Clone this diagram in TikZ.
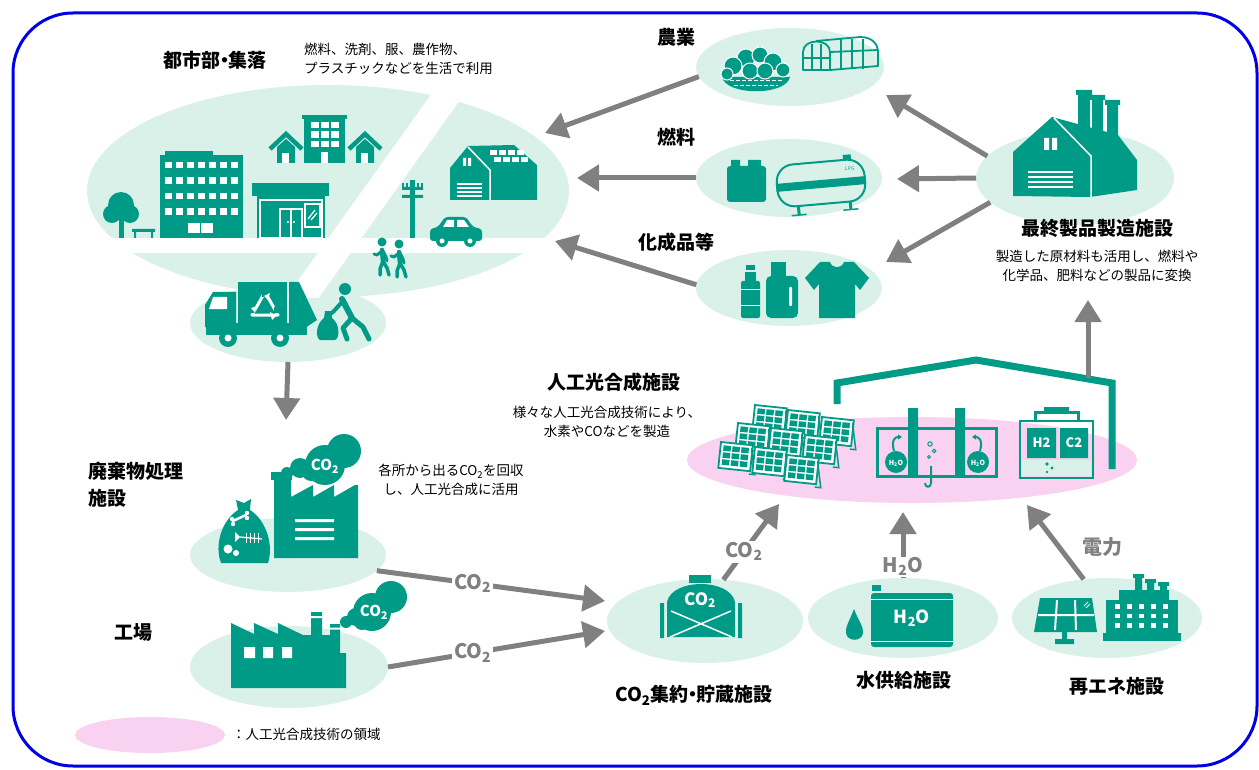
\documentclass[tikz,border=0pt]{standalone}
\usepackage{fontspec}
\setmainfont{Noto Sans CJK JP}
\usetikzlibrary{shapes.geometric,arrows.meta}
\definecolor{tl}{RGB}{0,155,134}
\definecolor{mint}{RGB}{217,241,233}
\definecolor{pinkz}{RGB}{248,210,240}
\definecolor{agray}{RGB}{128,128,128}
\definecolor{frameblue}{RGB}{0,0,230}
\newcommand{\mdot}{\kern-0.28em・\kern-0.28em}
\tikzset{
  blob/.style={ellipse, fill=mint, draw=none, inner sep=0pt, outer sep=0pt},
  flow/.style={draw=agray, line width=5pt, -{Triangle[length=22pt,width=26pt]}},
  title/.style={font=\fontsize{19}{27}\selectfont\bfseries, inner sep=0pt},
  note/.style={font=\fontsize{13.5}{18.5}\selectfont, inner sep=0pt, align=center},
  flowlab/.style={font=\fontsize{20}{22}\selectfont\bfseries, text=agray, fill=white, inner sep=2pt},
  cloudtxt/.style={font=\fontsize{15}{15}\selectfont\bfseries, text=white, inner sep=0pt},
  spanel/.pic={
    \fill[white] (0,0) rectangle (32,26);
    \draw[tl, line width=1.8pt] (0,0) rectangle (32,26);
    \foreach \i in {0,1,2}{\foreach \j in {0,1,2}{
      \fill[tl] (3+\i*9,3+\j*7) rectangle ++(7.5,5.5);}}
    \draw[tl, line width=1.5pt] (31,3) -- (37,29) -- (31,29);
  },
  walker/.pic={
    \fill[tl] (0,0) circle (4.5);
    \draw[tl, line width=4.5pt, line cap=round] (0,8) -- (1,19);
    \draw[tl, line width=3.5pt, line cap=round, line join=round] (1,19) -- (-2,27) -- (-2,33) (1,19) -- (5,26) -- (7,33);
    \draw[tl, line width=3pt, line cap=round, line join=round] (0,9) -- (-5,13) -- (-8,12) (1,9) -- (4,15) -- (5,19);
  }
}
\begin{document}
\begin{tikzpicture}[x=1pt,y=-1pt]
\useasboundingbox (0,0) rectangle (1259,770);
\draw[frameblue, line width=3pt, rounded corners=60pt] (13,13) rectangle (1257,766);

% ---------- zones ----------
\node[blob, minimum width=482pt, minimum height=212pt] (city) at (328,191) {};
\node[blob, minimum width=196pt, minimum height=78pt] (truckzone) at (288,323) {};
\fill[white] (445,75) -- (478,75) -- (318.6,298) -- (285.6,298) -- cycle;
\fill[white] (80,238) rectangle (580,253);
\node[blob, minimum width=188pt, minimum height=78pt] (agri) at (790,67) {};
\node[blob, minimum width=186pt, minimum height=78pt] (fuel) at (789,178) {};
\node[blob, minimum width=186pt, minimum height=76pt] (chem) at (789,288) {};
\node[blob, minimum width=198pt, minimum height=94pt] (mfg) at (1075,178) {};
\node[blob, minimum width=196pt, minimum height=74pt] (waste) at (288,555) {};
\node[blob, minimum width=198pt, minimum height=82pt] (plant) at (289,667) {};
\node[blob, minimum width=196pt, minimum height=84pt] (co2s) at (705,621) {};
\node[blob, minimum width=190pt, minimum height=80pt] (water) at (903,618) {};
\node[blob, minimum width=190pt, minimum height=80pt] (renew) at (1107,618) {};
\node[blob, fill=pinkz, minimum width=450pt, minimum height=86pt] (ap) at (912,460) {};
\node[blob, fill=pinkz, minimum width=150pt, minimum height=36pt] (legend) at (150,735) {};

% ---------- city ----------
% tree and bench
\fill[tl] (121,205) circle (13) (112,214) circle (9) (130,214) circle (9);
\fill[tl] (118.5,214) rectangle (123.5,238);
\fill[tl] (132,229) rectangle (155,232) (134,232) rectangle (136,238) (151,232) rectangle (153,238);
% office block
\fill[tl] (165,151) rectangle (213,156);
\fill[tl] (160,155) rectangle (243,238);
\foreach \i in {0,...,6}{\foreach \j in {0,1,2,3}{
  \fill[white] (165+\i*11,162+\j*15.5) rectangle ++(7,6.5);}}
\fill[white] (188,223) rectangle (213,233);
\draw[tl, line width=1pt] (200.5,223) -- (200.5,233);
% shop
\fill[tl] (252,183) -- (329,183) -- (329,196) -- (252,196) -- cycle;
\fill[tl] (257,196) rectangle (325,238);
\draw[white, line width=1.2pt] (260,200) rectangle (322,238);
\draw[white, line width=1.5pt] (280,209) rectangle (302,238) (291,209) -- (291,238);
\fill[white] (288,222) circle (1.2) (294,222) circle (1.2);
\draw[white, line width=1.5pt] (305,204) rectangle (320,227);
\draw[white, line width=1.2pt] (308,219) -- (315,210) (311,220) -- (317,213);
% houses and small block
\foreach \cx in {286,365}{
  \draw[tl, line width=4.5pt] (\cx-16,149) -- (\cx,134) -- (\cx+16,149);
  \fill[tl] (\cx-9,147) -- (\cx,139) -- (\cx+9,147) -- (\cx+9,163) -- (\cx-9,163) -- cycle;
  \fill[white] (\cx-4,153) rectangle (\cx+3,163);
}
\fill[tl] (304,116) rectangle (345,163);
\fill[tl] (302,115) rectangle (347,119);
\foreach \i in {0,1,2}{\foreach \j in {0,1,2}{
  \fill[white] (311+\i*10,122+\j*9.5) rectangle ++(7.5,6.5);}}
\fill[white] (321,152) rectangle (328,163);
% solar house
\fill[tl] (450,200) -- (450,168) -- (468,146) -- (514,145) -- (537,165) -- (537,200) -- cycle;
\draw[white, line width=1.5pt] (468,147) -- (490,170) -- (490,200);
\foreach \i in {0,1,2,3}{\foreach \j in {0,1}{
  \fill[white] (490+\i*9+\j*4,150+\j*7) rectangle ++(7,5);}}
\foreach \yy in {184,188,192,196}{\draw[white, line width=1.2pt] (457,\yy) -- (482,\yy);}
\fill[white] (463,158) rectangle (466,166) (468,158) rectangle (471,166);
% pole
\fill[tl] (410,180) rectangle (415,238);
\fill[tl] (402,187) rectangle (423,190) (402,195) rectangle (423,198);
\foreach \xx in {403,407,418,422}{\fill[tl] (\xx-1,183) rectangle (\xx+1,187);}
% car
\fill[tl, rounded corners=3pt] (430,241) -- (430,229) -- (438,227) -- (445,217) -- (466,217) -- (473,227) -- (482,229) -- (482,241) -- cycle;
\fill[white] (447,220) -- (454,220) -- (454,227) -- (443,227) -- cycle;
\fill[white] (457,220) -- (464,220) -- (469,227) -- (457,227) -- cycle;
\fill[tl] (442,241) circle (6) (470,241) circle (6);
\fill[white] (442,241) circle (2.5) (470,241) circle (2.5);
% pedestrians
\pic at (382,242) {walker};
\pic at (399,244) {walker};
% refuse truck
\fill[tl] (205,327) -- (205,305) -- (213,292) -- (236,292) -- (236,327) -- cycle;
\fill[white] (213,297) -- (227,297) -- (227,309) -- (209,309) -- cycle;
\fill[tl] (238,282) rectangle (287,325);
\fill[tl] (289,282) -- (299,282) -- (317,320) -- (305,328) -- (289,326) -- cycle;
\fill[tl] (206,323) rectangle (307,335);
\fill[tl] (228,338) circle (9) (280,338) circle (9);
\fill[white] (228,338) circle (3.5) (280,338) circle (3.5);
\draw[white, line width=3pt, line join=round] (265,292) -- (278,315) -- (252,315) -- cycle;
\fill[tl] (262,290) rectangle (268,297) (274,307) rectangle (281,313) (250,307) rectangle (256,313);
\fill[white] (264,296) -- (270,293) -- (268,300) -- cycle;
\fill[white] (276,316) -- (272,320) -- (270,312) -- cycle;
\fill[white] (251,308) -- (257,306) -- (255,313) -- cycle;
% worker with bag
\fill[tl] (345,289) circle (6);
\draw[tl, line width=6pt, line cap=round] (342,299) -- (352,318);
\draw[tl, line width=4pt, line cap=round, line join=round] (342,302) -- (334,311) -- (329,315);
\draw[tl, line width=5pt, line cap=round, line join=round] (352,318) -- (343,328) -- (347,339) (352,318) -- (363,327) -- (369,339);
\fill[tl] (325,311) -- (331,311) -- (332,318) .. controls (340,324) and (340,338) .. (335,340) -- (320,340) .. controls (315,337) and (316,324) .. (324,318) -- cycle;

% ---------- products ----------
% vegetables and greenhouse
\fill[tl] (722,77) .. controls (726,96) and (786,96) .. (790,77) -- cycle;
\draw[white, line width=1pt, dash pattern=on 4pt off 2pt] (730,81) -- (782,81) (734,86) -- (778,86);
\foreach \px/\py/\pr in {746/58/9,760/55/8,733/66/9,773/62/9,783/70/7,750/71/8,765/71/8,727/74/6}{
  \filldraw[fill=tl, draw=white, line width=1pt] (\px,\py) circle (\pr);}
\draw[tl, line width=1.8pt, line join=round] (803,70) -- (803,52) .. controls (803,38) and (830,38) .. (830,52) -- (830,70) -- cycle;
\draw[tl, line width=1.2pt] (812,44) -- (812,70) (821,44) -- (821,70) (803,58) -- (830,58);
\draw[tl, line width=1.8pt, line join=round] (816,41) -- (860,37) .. controls (873,37) and (878,45) .. (878,52) -- (878,66) -- (830,70);
\draw[tl, line width=1.8pt] (830,52) -- (878,50);
\foreach \xx in {841,852,863}{\draw[tl, line width=1.2pt] (\xx,39) -- (\xx,69);}
% jerry can and gas tank
\fill[tl, rounded corners=3pt] (727,166) rectangle (766,202);
\fill[tl] (731,160) rectangle (740,167) (748,160) rectangle (761,166);
\begin{scope}[shift={(821,183)}, rotate=5]
  \draw[tl, line width=2pt, rounded corners=17pt] (-44,-21) rectangle (44,21);
  \fill[tl] (-45,-3) rectangle (45,5);
  \fill[tl] (-26,21) rectangle (-23,30) (26,21) rectangle (29,29);
  \draw[tl, line width=1.5pt] (-32,30) -- (-17,30) (20,29) -- (35,29);
  \fill[tl] (24,-26) rectangle (32,-21);
  \node[text=tl, font=\fontsize{5}{5}\selectfont, inner sep=0pt] at (30,-12) {LPG};
\end{scope}
% bottles and shirt
\fill[tl, rounded corners=2pt] (741,281) rectangle (760,318);
\fill[tl] (745,272) rectangle (756,282);
\fill[tl] (746,265) rectangle (755,270);
\draw[white, line width=1pt] (741,290) -- (760,290) (741,305) -- (760,305);
\fill[tl, rounded corners=5pt] (766,276) rectangle (798,318);
\fill[tl] (771,262) rectangle (786,276);
\fill[white, rounded corners=1pt] (789,287) rectangle (792,306);
\fill[tl] (820,262) -- (830,262) .. controls (832,269) and (842,269) .. (844,262) -- (854,262) -- (869,278) -- (860,290) -- (855,284) -- (855,318) -- (819,318) -- (819,284) -- (814,290) -- (805,278) -- cycle;
% manufacturing plant
\fill[tl] (1078,92) rectangle (1090,135) (1092,97) rectangle (1103,140) (1107,102) rectangle (1118,145);
\fill[tl] (1076,90) rectangle (1092,95) (1090,95) rectangle (1105,100) (1105,100) rectangle (1120,105);
\fill[tl] (1013,196) -- (1013,152) -- (1052,117) -- (1118,135) -- (1137,160) -- (1137,190) -- (1090,197) -- cycle;
\draw[white, line width=1.5pt] (1054,118) -- (1091,156) -- (1091,197);
\fill[white] (1044,138) rectangle (1049,150) (1052,138) rectangle (1057,150);
\foreach \yy in {172,177,182,187}{\draw[white, line width=2pt] (1028,\yy) -- (1073,\yy);}

% ---------- artificial photosynthesis ----------
\foreach \qx/\qy in {755/405,788/410,822/417,738/423,771/428,805/435,721/442,755/447,787/455}{
  \pic[rotate=-6] at (\qx,\qy) {spanel};}
\draw[tl, line width=3pt] (877,428) rectangle (996,476);
\fill[tl] (908,408) rectangle (918,476) (955,408) rectangle (965,476);
\fill[tl] (896,462) circle (11) (978,462) circle (11);
\node[font=\fontsize{7}{7}\selectfont\bfseries, text=white, inner sep=0pt] at (896,463) {H\textsubscript{2}O};
\node[font=\fontsize{7}{7}\selectfont\bfseries, text=white, inner sep=0pt] at (978,463) {H\textsubscript{2}O};
\draw[tl, line width=2pt, -{Triangle[length=4pt,width=5pt]}] (894,451) .. controls (891,440) and (895,437) .. (902,437);
\draw[tl, line width=2pt, -{Triangle[length=4pt,width=5pt]}] (980,451) .. controls (983,440) and (979,437) .. (972,437);
\draw[tl, line width=1pt] (930,444) circle (2.2) (934,451) circle (1.8) (929,457) circle (1.5);
\draw[tl, line width=2pt] (931,466) -- (931,483) .. controls (931,488) and (925,488) .. (925,483);
\draw[tl, line width=2.5pt] (1020,421) rectangle (1093,478);
\fill[mint] (1022,460) rectangle (1091,476);
\draw[tl, line width=3pt] (1035,421) -- (1035,412) -- (1078,412) -- (1078,421);
\fill[tl] (1044,407) rectangle (1069,413);
\fill[tl] (1027,428) rectangle (1056,458) (1060,428) rectangle (1088,458);
\node[font=\fontsize{13}{13}\selectfont\bfseries, text=white, inner sep=0pt] at (1041.5,443) {H2};
\node[font=\fontsize{13}{13}\selectfont\bfseries, text=white, inner sep=0pt] at (1074,443) {C2};
\fill[tl] (1047,464) circle (1.8) (1052,468) circle (1.6) (1047,472) circle (1.4);
\coordinate (roofpt) at (1088,378);
\draw[tl, line width=7pt, line join=miter] (837,404) -- (837,383) -- (976,360) -- (1112,383) -- (1112,469);

% ---------- emitters ----------
% waste bag
\fill[tl] (221,563) .. controls (214,545) and (222,520) .. (238,510) -- (236,500) -- (244,503) -- (251,499) -- (250,510) .. controls (266,520) and (274,545) .. (268,563) -- cycle;
\draw[white, line width=2.5pt, line cap=round] (233,521) -- (246,515);
\fill[white] (232,519) circle (2.2) (233,524) circle (2.2) (247,513) circle (2.2) (247,518) circle (2.2);
\draw[white, line width=1.2pt] (240,537) -- (262,539);
\foreach \xx in {246,250,254,258}{\draw[white, line width=1pt] (\xx,533) -- (\xx,543);}
\fill[white] (240,537) -- (235,532) -- (235,542) -- cycle;
\fill[white] (228,549) circle (4.5) (236,553) circle (3);
% incineration plant
\fill[tl] (271,472) rectangle (292,480);
\fill[tl] (274,480) -- (291,480) -- (291,497) -- (313,485) -- (313,497) -- (334,485) -- (334,497) -- (355,485) -- (358,485) -- (358,558) -- (274,558) -- cycle;
\fill[white] (295,519) rectangle (334,522) (295,528) rectangle (334,531) (295,537) rectangle (334,540);
\fill[tl] (287,473) circle (6) (300,468) circle (10) (311,472) circle (9) (325,465) circle (20) (344,451) circle (17);
\node[cloudtxt] at (325,466) {CO\textsubscript{2}};
% factory
\fill[tl] (231,688) -- (231,623) -- (254,634) -- (254,623) -- (278,634) -- (278,623) -- (303,635) -- (311,635) -- (311,612) -- (322,612) -- (322,635) -- (330,635) -- (330,624) -- (340,624) -- (340,653) -- (346,653) -- (346,688) -- cycle;
\fill[white] (311,616) rectangle (322,618) (330,627.5) rectangle (340,629.5);
\fill[white] (244,647) rectangle (255,658) (263,647) rectangle (273,658) (282,647) rectangle (292,658);
\fill[tl] (346,622) circle (6) (356,617) circle (9) (362,622) circle (8) (372,612) circle (19) (391,597) circle (16);
\node[cloudtxt] at (374,612) {CO\textsubscript{2}};

% ---------- supply facilities ----------
% CO2 tank
\fill[tl] (667,637) -- (667,602) .. controls (672,578) and (730,578) .. (735,602) -- (735,637) -- cycle;
\fill[tl] (689,575) rectangle (711,583);
\fill[tl] (660,603) rectangle (664,638) (738,603) rectangle (742,638);
\draw[white, line width=1.5pt] (671,611) -- (732,637) (731,611) -- (670,637);
\node[font=\fontsize{17}{17}\selectfont\bfseries, text=white, fill=tl, inner sep=1pt] at (700,600) {CO\textsubscript{2}};
% water tank
\fill[tl] (854,609) .. controls (850,620) and (845,627) .. (846,633) .. controls (847,642) and (862,642) .. (863,633) .. controls (864,627) and (858,620) .. (854,609) -- cycle;
\fill[tl, rounded corners=3pt] (871,593) rectangle (953,647);
\fill[tl] (872,585) rectangle (881,591);
\draw[white, line width=1pt] (871,599) -- (953,599) (871,641) -- (953,641);
\node[font=\fontsize{18}{18}\selectfont\bfseries, text=white, inner sep=0pt] at (912,618) {H\textsubscript{2}O};
% solar panel and plant
\fill[tl] (1040,598) -- (1092,598) -- (1097,632) -- (1034,632) -- cycle;
\draw[white, line width=2pt] (1038,615) -- (1094,615) (1057,600) -- (1055,630) (1075,600) -- (1076,630);
\draw[white, line width=1pt] (1084,606) -- (1088,602) (1086,608) -- (1090,604);
\fill[tl] (1062,632) rectangle (1067,640) (1055,639) rectangle (1074,644);
\fill[tl] (1135,575) rectangle (1142,600) (1147,580) rectangle (1154,600) (1160,583) rectangle (1167,600);
\fill[tl] (1133,574) rectangle (1144,578) (1145,579) rectangle (1156,583) (1158,582) rectangle (1169,586);
\fill[tl] (1119,590) rectangle (1169,600);
\fill[tl] (1106,600) rectangle (1178,640);
\fill[tl] (1103,633) rectangle (1181,641);
\foreach \i in {0,...,4}{\foreach \j in {0,1,2}{
  \fill[white] (1115+\i*12,604+\j*9.5) rectangle ++(4.5,4.5);}}

% ---------- flows ----------
\coordinate (tipAgri) at (545,133);
\coordinate (tipFuel) at (577,178);
\coordinate (tipChem) at (555,241);
\coordinate (tipA) at (886,95);
\coordinate (tipF) at (897,179);
\coordinate (tipC) at (886,262);
\coordinate (tipW) at (286,420);
\coordinate (tipS1) at (605,601);
\coordinate (tipS2) at (605,631);
\coordinate (tipCO) at (779,504);
\coordinate (tipH) at (903,512);
\coordinate (tipE) at (1027,505);
\coordinate (tipM) at (1088,300);
\draw[flow] (agri.186) -- (tipAgri);
\draw[flow] (fuel.west) -- (tipFuel);
\draw[flow] (chem.178) -- (tipChem);
\draw[flow] (mfg.166) -- (tipA);
\draw[flow] (mfg.west) -- (tipF);
\draw[flow] (mfg.196) -- (tipC);
\draw[flow] (truckzone.south) -- (tipW);
\draw[flow] (waste.350) -- node[flowlab, pos=0.42] {CO\textsubscript{2}} (tipS1);
\draw[flow] (plant.east) -- node[flowlab, pos=0.39] {CO\textsubscript{2}} (tipS2);
\draw[flow] (co2s.66) -- node[flowlab, pos=0.37] {CO\textsubscript{2}} (tipCO);
\draw[flow] (water.north) -- node[flowlab, pos=0.17, inner sep=1pt] {H\textsubscript{2}O} (tipH);
\draw[flow] (renew.121) -- (tipE);
\draw[flow] (roofpt) -- (tipM);
\node[flowlab, fill=none] (power) at (1102,547) {電力};

% ---------- labels ----------
\node[title] (tcity) at (215,60) {都市部\mdot 集落};
\node[note, align=left, anchor=west] (ncity) at (304,59) {燃料、洗剤、服、農作物、\\プラスチックなどを生活で利用};
\node[title] (tagri) at (676,37) {農業};
\node[title] (tfuel) at (676,137) {燃料};
\node[title] (tchem) at (676,242) {化成品等};
\node[title] (tmfg) at (1097,228) {最終製品製造施設};
\node[note] (nmfg) at (1097,266) {製造した原材料も活用し、燃料や\\化学品、肥料などの製品に変換};
\node[title] (tap) at (614,382) {人工光合成施設};
\node[note] (nap) at (607,422) {様々な人工光合成技術により、\\水素やCOなどを製造};
\node[title, align=left, anchor=west] (twaste) at (88,485) {廃棄物処理\\施設};
\node[note] (nwaste) at (451,480) {各所から出るCO\textsubscript{2}を回収\\し、人工光合成に活用};
\node[title] (tplant) at (133,632) {工場};
\node[title] (tco2s) at (694,695) {CO\textsubscript{2}集約\mdot 貯蔵施設};
\node[title] (twater) at (904,680) {水供給施設};
\node[title] (trenew) at (1117,686) {再エネ施設};
\node[note, anchor=west] (tlegend) at (232,734) {：人工光合成技術の領域};
\end{tikzpicture}
\end{document}
